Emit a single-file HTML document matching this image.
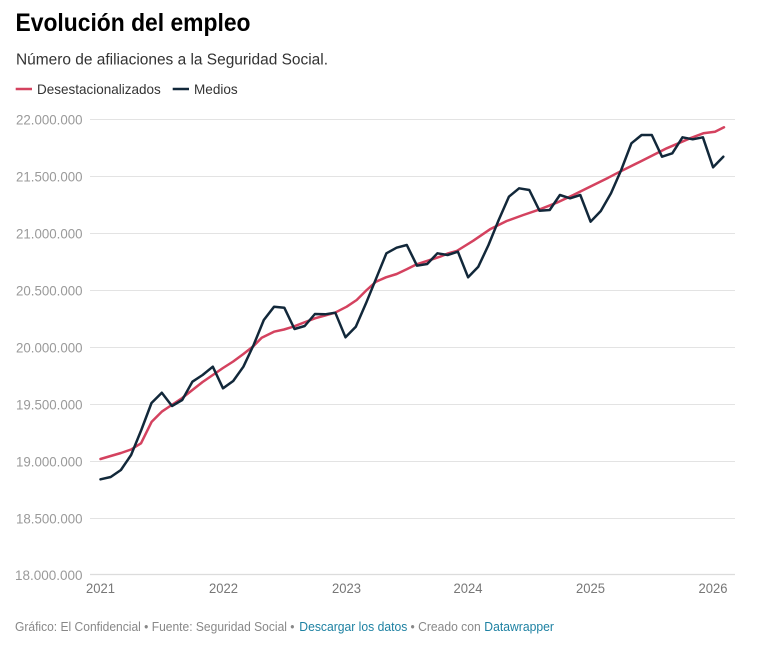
<!DOCTYPE html>
<html>
<head>
<meta charset="utf-8">
<style>
  html,body{margin:0;padding:0;background:#fff;}
  svg{display:block;}
  text{font-family:"Liberation Sans",Arial,sans-serif;}
</style>
</head>
<body>
<svg width="757" height="645" viewBox="0 0 757 645" xmlns="http://www.w3.org/2000/svg">
  <rect width="757" height="645" fill="#fff"/>
  <!-- Title -->
  <text x="15.5" y="31" font-size="25" font-weight="bold" fill="#000" textLength="235" lengthAdjust="spacingAndGlyphs">Evolución del empleo</text>
  <text x="16" y="64.3" font-size="15.5" fill="#333" textLength="312" lengthAdjust="spacingAndGlyphs">Número de afiliaciones a la Seguridad Social.</text>

  <!-- Legend -->
  <line x1="15.7" y1="89" x2="32" y2="89" stroke="#d4425f" stroke-width="2.5"/>
  <text x="37" y="94" font-size="14" fill="#333" textLength="123.7" lengthAdjust="spacingAndGlyphs">Desestacionalizados</text>
  <line x1="172.7" y1="89" x2="189" y2="89" stroke="#12283a" stroke-width="2.5"/>
  <text x="194" y="94" font-size="14" fill="#333" textLength="43.7" lengthAdjust="spacingAndGlyphs">Medios</text>

  <!-- Gridlines -->
  <g stroke="#e3e3e3" stroke-width="1">
    <line x1="90" y1="119.5" x2="735" y2="119.5"/>
    <line x1="90" y1="176.5" x2="735" y2="176.5"/>
    <line x1="90" y1="233.5" x2="735" y2="233.5"/>
    <line x1="90" y1="290.5" x2="735" y2="290.5"/>
    <line x1="90" y1="347.5" x2="735" y2="347.5"/>
    <line x1="90" y1="404.5" x2="735" y2="404.5"/>
    <line x1="90" y1="461.5" x2="735" y2="461.5"/>
    <line x1="90" y1="518.5" x2="735" y2="518.5"/>
  </g>
  <line x1="90" y1="574.5" x2="735" y2="574.5" stroke="#dcdcdc" stroke-width="1.2"/>

  <!-- Y labels -->
  <g font-size="14" fill="#9a9a9a">
    <text x="16" y="124.5" textLength="66.5" lengthAdjust="spacingAndGlyphs">22.000.000</text>
    <text x="16" y="181.5" textLength="66.5" lengthAdjust="spacingAndGlyphs">21.500.000</text>
    <text x="16" y="238.5" textLength="66.5" lengthAdjust="spacingAndGlyphs">21.000.000</text>
    <text x="16" y="295.5" textLength="66.5" lengthAdjust="spacingAndGlyphs">20.500.000</text>
    <text x="16" y="352.5" textLength="66.5" lengthAdjust="spacingAndGlyphs">20.000.000</text>
    <text x="16" y="409.5" textLength="66.5" lengthAdjust="spacingAndGlyphs">19.500.000</text>
    <text x="16" y="466.5" textLength="66.5" lengthAdjust="spacingAndGlyphs">19.000.000</text>
    <text x="16" y="523.5" textLength="66.5" lengthAdjust="spacingAndGlyphs">18.500.000</text>
    <text x="15" y="580" textLength="67.5" lengthAdjust="spacingAndGlyphs">18.000.000</text>
  </g>

  <!-- X labels -->
  <g font-size="14" fill="#777">
    <text x="86" y="593" textLength="29" lengthAdjust="spacingAndGlyphs">2021</text>
    <text x="209" y="593" textLength="29" lengthAdjust="spacingAndGlyphs">2022</text>
    <text x="332" y="593" textLength="29" lengthAdjust="spacingAndGlyphs">2023</text>
    <text x="453.5" y="593" textLength="29" lengthAdjust="spacingAndGlyphs">2024</text>
    <text x="576" y="593" textLength="29" lengthAdjust="spacingAndGlyphs">2025</text>
    <text x="698.5" y="593" textLength="29" lengthAdjust="spacingAndGlyphs">2026</text>
  </g>

  <!-- Red series: Desestacionalizados -->
  <polyline fill="none" stroke="#d4425f" stroke-width="2.5" stroke-linejoin="round" stroke-linecap="round"
    points="100.5,459 110.7,456 121,453 131,449.5 141,443.3 151.7,421.7 161.7,411.7 171.7,405 182.2,398 192.4,390 202.6,382 212.8,375 223,368 233.2,361.5 243.4,354 253.6,346 261.7,337.7 274,331.7 284,329.5 293.3,326.7 304,322.5 315,318.3 325,315.5 335,312.7 346.7,306.7 356.7,300 366.7,290 376,281.7 386,277.3 396.7,274 406.7,269.3 416.7,264.3 430,260 440,256.7 448.3,253.3 456.7,251 473.3,240.7 490,229.3 506.7,221 523.3,215 540,209.3 556.7,202.7 573.3,195 590,186.7 608.3,177.7 616.7,173.3 640,161.7 666.7,148.3 690,138.3 703.3,133.3 715,131.7 724,127.3"/>

  <!-- Dark series: Medios -->
  <polyline fill="none" stroke="#12283a" stroke-width="2.5" stroke-linejoin="round" stroke-linecap="round"
    points="100.5,479.3 110.7,477 120.9,470 131.1,455 141.3,430 151.5,403 161.8,392.7 172,406 182.2,400 192.4,381.7 202.6,375 212.8,366.7 223,388.3 233.2,381 243.4,366.7 253.6,345 263.8,320 274.1,306.7 284.3,307.7 294.5,329 304.7,326 314.9,314 325.1,314.3 335.3,312.7 345.5,337.3 355.8,326.7 366,303.3 376.2,278.3 386.4,253.3 396.6,247.7 406.8,245 417,265.7 427.2,264 437.4,253.3 447.6,255 457.9,251.7 468.1,277.3 478.3,266.7 488.5,245 498.7,220 508.9,196.7 519.1,188.3 529.3,190 539.5,210.7 549.7,210 559.9,195 570.1,198.3 580.3,195 590.6,221.7 600.8,211 611,193.3 621.2,170 631.4,143.3 641.6,135 651.8,135 662,156.7 672.3,153.3 682.5,137.3 692.7,139.3 702.9,137.3 713.1,167.3 723.3,156.7"/>

  <!-- Footer -->
  <g font-size="12.5">
    <text x="15" y="631" fill="#888" textLength="279.5" lengthAdjust="spacingAndGlyphs">Gráfico: El Confidencial • Fuente: Seguridad Social •</text>
    <text x="299.3" y="631" fill="#1d81a2" textLength="108" lengthAdjust="spacingAndGlyphs">Descargar los datos</text>
    <text x="410.5" y="631" fill="#888" textLength="70.2" lengthAdjust="spacingAndGlyphs">• Creado con</text>
    <text x="484.3" y="631" fill="#1d81a2" textLength="69.7" lengthAdjust="spacingAndGlyphs">Datawrapper</text>
  </g>
</svg>
</body>
</html>
